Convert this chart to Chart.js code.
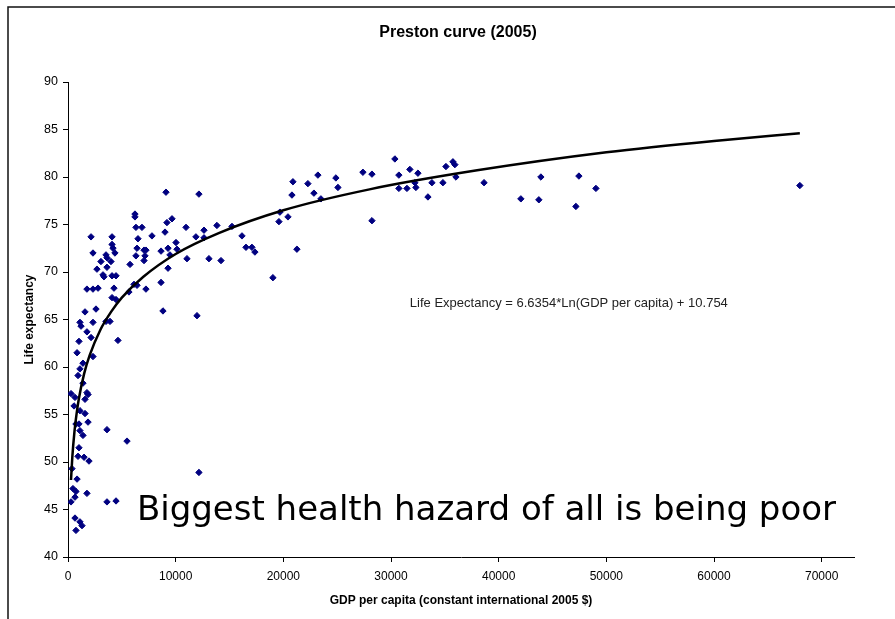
<!DOCTYPE html>
<html>
<head>
<meta charset="utf-8">
<script src="https://cdn.jsdelivr.net/npm/chart.js@4/dist/chart.umd.min.js"></script>
<style>
html,body{margin:0;padding:0;background:#fff;overflow:hidden;}
#wrap{position:absolute;left:0;top:0;width:916px;height:619px;}
</style>
</head>
<body>
<div id="wrap"><canvas id="prest" width="916" height="619"></canvas></div>
<script>
// country points
var gdpPerCapita = [
 1580,2600,1110,1210,2320,1760,2140,1020,840,2320,3530,3900,4640,8820,11980,
 1390,1110,930,1390,280,650,1760,1860,1580,560,1110,1580,740,1020,1860,
 1110,1390,3620,5480,1020,930,1490,1950,370,840,12160,460,740,1760,650,
 280,3620,4460,650,1110,1300,740,
 2140,2320,1760,2320,2790,2690,3060,3250,3340,3530,3620,3620,3990,4090,4090,
 4180,4360,4090,4460,4270,4090,4460,5660,6130,6410,6310,6410,6220,6220,6310,
 6870,6500,7060,7240,7060,7240,7800,8640,8640,9100,9010,9190,9660,9290,9470,
 9290,10030,10120,10960,11050,11880,12160,12630,12630,13090,13830,14210,15230,16160,16530,
 17080,17360,19030,19590,19680,20430,20800,20890,21260,5760,7150,
 22280,22840,23210,23490,24880,25070,27390,28230,28230,30360,30730,30730,31480,31750,32220,
 32310,32500,33430,33800,34820,35100,35750,35930,36030,38640,42060,43730,43920,47450,47170,
 49030,67970
];
var lifeExpectancy = [
 65.8,66.1,64.7,64.3,64.7,63.7,63.1,62.7,61.5,61.1,64.8,64.8,62.8,65.9,65.4,
 60.4,59.8,59.1,58.3,57.2,56.8,57.3,57.1,56.6,55.9,55.4,55.1,54.0,54.0,54.2,
 53.3,52.8,53.4,52.2,51.5,50.6,50.5,50.1,49.3,48.2,48.9,47.2,46.9,46.7,46.3,
 45.8,45.8,45.9,44.1,43.7,43.3,42.8,
 73.7,72.0,68.2,68.2,68.3,70.3,71.1,69.7,69.5,71.8,71.5,70.5,71.1,73.7,72.9,
 72.5,72.0,69.6,69.6,68.3,67.3,67.1,67.9,68.7,68.6,71.7,72.5,76.1,75.8,74.7,
 74.7,73.5,72.3,72.3,71.2,68.2,73.8,72.2,68.9,78.4,74.2,75.2,75.6,72.5,71.8,
 70.4,73.1,72.4,74.7,71.4,73.7,78.2,74.4,73.6,71.4,74.9,71.2,74.8,73.8,72.6,
 72.6,72.1,69.4,75.3,76.3,75.8,78.1,79.5,72.4,70.8,71.7,
 79.3,78.3,80.2,77.7,79.9,78.9,80.5,80.3,75.4,81.9,80.2,78.8,78.8,80.8,79.4,
 78.9,80.4,77.9,79.4,79.4,81.1,81.6,81.3,80.0,79.4,77.7,77.6,80.0,80.1,76.9,
 78.8,79.1
];

// log trend line as drawn
var trendGdp = [280,400,600,800,1000,1500,2000,3000,4000,5000,7000,10000,14000,20000,28000,38000,50000,60000,67970];
var trendLife = [48.1,50.5,53.2,55.1,56.6,59.3,61.2,63.9,65.8,67.3,69.5,71.9,74.1,76.5,78.7,80.7,82.6,83.8,84.6];

var xTicks = [0,10000,20000,30000,40000,50000,60000,70000];
var yTicks = [40,45,50,55,60,65,70,75,80,85,90];

var chartTitle = 'Preston curve (2005)';
var xTitle = 'GDP per capita (constant international 2005 $)';
var yTitle = 'Life expectancy';
var eqText = 'Life Expectancy = 6.6354*Ln(GDP per capita) + 10.754';
var bigText = 'Biggest health hazard of all is being poor';

var pts = [];
for (var i = 0; i < gdpPerCapita.length; i++) {
	pts.push({x: gdpPerCapita[i], y: lifeExpectancy[i]});
}
var trend = [];
for (var i = 0; i < trendGdp.length; i++) {
	trend.push({x: trendGdp[i], y: trendLife[i]});
}

var arial = 'Arial, "Liberation Sans", sans-serif';

var frame = {
	id: 'frame',
	beforeDraw: function(c) {
		var ctx = c.ctx;
		ctx.save();
		ctx.strokeStyle = '#111';
		ctx.lineWidth = 1.5;
		ctx.beginPath();
		ctx.moveTo(8, 619);
		ctx.lineTo(8, 7);
		ctx.lineTo(916, 7);
		ctx.stroke();
		// chart title, centred on the whole (cropped) chart box
		ctx.fillStyle = '#000';
		ctx.textAlign = 'center';
		ctx.textBaseline = 'middle';
		ctx.font = 'bold 16px ' + arial;
		ctx.fillText(chartTitle, c.width / 2, 33);
		ctx.restore();
	}
};

var notes = {
	id: 'notes',
	afterDatasetsDraw: function(c) {
		var ctx = c.ctx;
		var xs = c.scales.x, ys = c.scales.y;
		ctx.save();
		ctx.textBaseline = 'middle';
		ctx.textAlign = 'left';
		ctx.fillStyle = '#222';
		ctx.font = '13px ' + arial;
		ctx.fillText(eqText, xs.getPixelForValue(31750), ys.getPixelForValue(66.7));
		ctx.fillStyle = '#000';
		ctx.font = '34px "DejaVu Sans", sans-serif';
		ctx.fillText(bigText, xs.getPixelForValue(6400), ys.getPixelForValue(44.85));
		ctx.restore();
	}
};

var prest = new Chart(document.getElementById('prest'), {
	type: 'scatter',
	data: {
		datasets: [
		{
			type: 'line',
			data: trend,
			borderColor: '#000',
			borderWidth: 2.5,
			pointRadius: 0,
			fill: false,
			cubicInterpolationMode: 'monotone'
		},
		{
			data: pts,
			pointStyle: 'rectRot',
			pointRadius: 3.2,
			backgroundColor: '#000080',
			borderColor: '#000080',
			borderWidth: 1
		}
		]
	},
	options: {
		responsive: false,
		animation: false,
		devicePixelRatio: 1,
		layout: {padding: {left: 0, right: 62, top: 82, bottom: 0}},
		plugins: {
			legend: {display: false},
			tooltip: {enabled: false},
			title: {display: false}
		},
		scales: {
			x: {
				type: 'linear',
				min: 0,
				max: 73000,
				afterFit: function(s) { s.height = 62; },
				afterBuildTicks: function(s) {
					s.ticks = xTicks.map(function(v) { return {value: v}; });
				},
				grid: {drawOnChartArea: false, drawTicks: true, tickLength: 5, color: '#000'},
				border: {color: '#000', width: 1},
				ticks: {color: '#000', padding: 7, autoSkip: false,
					font: {family: arial, size: 12}, maxRotation: 0,
					callback: function(v) { return String(v); }},
				title: {display: true, text: xTitle, color: '#000',
					font: {family: arial, size: 12, weight: 'bold'}, padding: {top: 0, bottom: 11}}
			},
			y: {
				min: 40,
				max: 90,
				afterFit: function(s) { s.width = 68; },
				afterBuildTicks: function(s) {
					s.ticks = yTicks.map(function(v) { return {value: v}; });
				},
				grid: {drawOnChartArea: false, drawTicks: true, tickLength: 5, color: '#000'},
				border: {color: '#000', width: 1},
				ticks: {color: '#000', padding: 5, font: {family: arial, size: 12.5}},
				title: {display: true, text: yTitle, color: '#000',
					font: {family: arial, size: 12, weight: 'bold'}, padding: {top: 22, bottom: 0}}
			}
		}
	},
	plugins: [frame, notes]
});
</script>
</body>
</html>
